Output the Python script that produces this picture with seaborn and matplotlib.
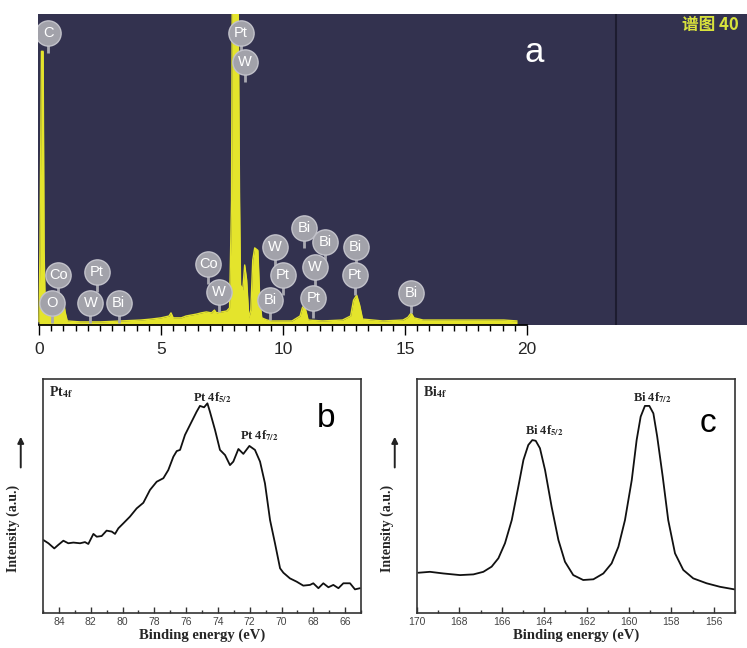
import matplotlib
matplotlib.use("Agg")
import matplotlib.pyplot as plt
from matplotlib.ticker import MultipleLocator, FixedLocator
import seaborn as sns

# --- panel a: EDS spectrum (keV, counts in % of full scale) ---
eds_kev = [0.00, 0.04, 0.10, 0.17, 0.21, 0.25, 0.33, 0.45, 0.66, 0.79, 0.91, 0.99,
           1.07, 1.16, 1.69, 2.52, 3.35, 4.17, 4.59, 5.00, 5.33, 5.41, 5.50, 5.83,
           6.03, 6.24, 6.45, 6.65, 6.86, 7.07, 7.19, 7.27, 7.48, 7.69, 7.81, 7.89,
           7.93, 8.14, 8.22, 8.26, 8.35, 8.43, 8.51, 8.60, 8.68, 8.76, 8.84, 8.97,
           9.05, 9.13, 9.34, 9.55, 9.96, 10.37, 10.70, 10.79, 10.87, 10.95, 11.03,
           11.61, 12.44, 12.77, 12.89, 13.02, 13.14, 13.26, 14.09, 14.92, 15.12,
           15.25, 15.37, 15.74, 17.40, 19.05, 19.59]
eds_counts = [1.0, 24.0, 88.0, 88.0, 24.0, 8.0, 4.8, 4.2, 4.2, 5.5, 8.0, 9.0,
              4.2, 1.3, 1.0, 1.0, 1.3, 1.6, 1.9, 2.3, 2.9, 3.9, 2.3, 2.3,
              2.9, 3.2, 3.5, 3.9, 4.2, 3.9, 4.8, 3.9, 4.2, 4.5, 5.5, 40.0,
              130.0, 130.0, 40.0, 12.9, 11.3, 19.3, 14.5, 2.3, 4.8, 20.9, 24.8, 24.0,
              8.0, 2.3, 1.6, 1.3, 1.3, 1.3, 2.9, 5.5, 6.4, 4.2, 1.6,
              1.3, 1.6, 2.9, 8.0, 9.6, 6.4, 1.9, 1.3, 1.6, 2.5,
              3.9, 2.3, 1.6, 1.6, 1.6, 1.3]

eds_labels = ["C", "Pt", "W", "Co", "O", "Pt", "W", "Bi", "Co", "W", "Bi", "W",
              "Pt", "Bi", "Bi", "W", "Pt", "Bi", "Pt", "Bi"]
label_kev = [0.38, 8.26, 8.43, 0.79, 0.54, 2.36, 2.11, 3.26, 6.94, 7.36, 9.46, 9.67,
             10.00, 10.87, 11.74, 11.32, 11.24, 12.98, 12.93, 15.25]
label_level = [93.9, 93.9, 84.6, 16.1, 7.1, 17.0, 7.1, 7.1, 19.6, 10.6, 8.0, 25.1,
               16.1, 31.2, 26.7, 18.6, 8.7, 25.1, 16.1, 10.3]

eds_major = [0, 5, 10, 15, 20]
eds_minor = [i * 0.5 for i in range(41)]

# --- panel b: Pt 4f XPS ---
pt_be = [84.98, 84.66, 84.29, 84.04, 83.72, 83.41, 83.09, 82.67, 82.36, 82.15,
         81.83, 81.62, 81.31, 81.00, 80.68, 80.47, 80.26, 79.95, 79.53, 79.11,
         78.69, 78.27, 77.85, 77.43, 77.12, 76.80, 76.59, 76.38, 76.07, 75.65,
         75.34, 75.13, 74.87, 74.66, 74.50, 74.18, 73.87, 73.55, 73.24, 73.03,
         72.71, 72.40, 72.02, 71.67, 71.35, 71.04, 70.72, 70.41, 70.09, 69.88,
         69.47, 69.05, 68.63, 68.21, 68.00, 67.68, 67.37, 67.05, 66.74, 66.42,
         66.11, 65.69, 65.38, 65.06]
pt_int = [31.2, 29.8, 27.6, 29.1, 30.9, 29.8, 30.1, 29.8, 30.3, 29.5,
          33.8, 32.6, 32.9, 35.2, 34.8, 33.8, 36.2, 38.3, 41.2, 44.7,
          47.1, 52.6, 56.1, 57.6, 61.1, 66.8, 69.2, 69.7, 76.1, 81.8,
          86.0, 88.5, 87.9, 89.6, 86.0, 78.2, 69.7, 67.5, 63.2, 64.7,
          70.1, 68.0, 71.4, 69.7, 64.7, 55.4, 39.7, 29.8, 19.1, 17.2,
          14.8, 13.4, 11.7, 12.0, 12.7, 10.6, 12.7, 11.0, 12.0, 10.6,
          12.7, 12.7, 10.1, 10.6]

# --- panel c: Bi 4f XPS ---
bi_be = [169.94, 169.39, 168.76, 167.97, 167.34, 166.87, 166.48, 166.16, 165.85,
         165.53, 165.22, 164.98, 164.75, 164.56, 164.40, 164.20, 163.96, 163.65,
         163.33, 163.02, 162.63, 162.16, 161.68, 161.21, 160.82, 160.50, 160.19,
         159.87, 159.64, 159.45, 159.25, 159.04, 158.85, 158.67, 158.41, 158.15,
         157.83, 157.44, 156.97, 156.34, 155.71, 155.03]
bi_int = [17.2, 17.6, 16.9, 16.2, 16.5, 17.6, 19.8, 23.4, 29.8,
          39.7, 54.0, 65.4, 71.8, 73.9, 73.6, 70.4, 61.1, 45.4,
          31.2, 21.9, 16.2, 14.1, 14.4, 16.9, 21.2, 28.3, 39.7,
          56.8, 73.9, 83.9, 88.5, 88.5, 85.3, 75.4, 58.3, 39.7,
          25.5, 18.4, 14.8, 12.7, 11.2, 10.1]

sns.set_theme(style="white")
plt.rcParams["font.family"] = ["Liberation Sans", "DejaVu Sans"]
plt.rcParams["mathtext.fontset"] = "stix"

W, H = 747, 648
fig = plt.figure(figsize=(W / 100, H / 100), dpi=100)
fig.patch.set_facecolor("white")

yellow = "#e4e42c"
navy = "#33324f"

# ---------------- panel a ----------------
ax_a = fig.add_axes([38 / W, 323 / H, 715 / W, 311 / H])
ax_a.set_facecolor(navy)
ax_a.fill_between(eds_kev, eds_counts, color=yellow, lw=0, zorder=2)
sns.lineplot(x=eds_kev, y=eds_counts, ax=ax_a, color=yellow, lw=1, zorder=2)
ax_a.axvline(23.64, color="#1d1c30", lw=1.5, zorder=1)
ax_a.set_xlim(-0.04, 29.26)
ax_a.set_ylim(0, 100)

lv = [v - 6.5 for v in label_level]
ax_a.vlines(label_kev, lv, label_level, color="#a9a9b1", lw=2, zorder=3)
ax_a.scatter(label_kev, label_level, s=330, c="#a2a2aa", edgecolors="#c2c2ca",
             linewidths=1, zorder=4)
for t, x, y in zip(eds_labels, label_kev, label_level):
    ax_a.text(x, y, t, ha="center", va="center", color="white", fontsize=10.5, zorder=5)

for s in ["top", "left", "right"]:
    ax_a.spines[s].set_visible(False)
ax_a.spines["bottom"].set_color("black")
ax_a.spines["bottom"].set_bounds(0, 20)
ax_a.xaxis.set_major_locator(FixedLocator(eds_major))
ax_a.xaxis.set_minor_locator(FixedLocator(eds_minor))
ax_a.set_yticks([])
ax_a.tick_params(axis="x", which="major", direction="out", length=7, width=1,
                 color="black", labelsize=12.5, pad=5, bottom=True)
ax_a.tick_params(axis="x", which="minor", direction="out", length=4, width=1,
                 color="black", bottom=True)
ax_a.set_xlabel("")
ax_a.set_ylabel("")

fig.text(534 / W, 1 - 52 / H, "a", color="white", fontsize=25, ha="center", va="center")
fig.text(682 / W, 1 - 25 / H, "谱图 40", color="#d8e23c", fontsize=12, weight="bold",
         ha="left", va="center", family=["Noto Sans CJK SC", "DejaVu Sans"])

# ---------------- panels b and c ----------------
serif = ["Liberation Serif", "DejaVu Serif"]


def xps_panel(left, be, inten, xlim, title, peaks, letter, letter_xy):
    ax = fig.add_axes([left / W, 35 / H, 318 / W, 234 / H])
    ax.set_facecolor("white")
    sns.lineplot(x=be, y=inten, ax=ax, color="#111111", lw=1.3)
    ax.set_xlim(*xlim)
    ax.set_ylim(0, 100)
    ax.set_yticks([])
    ax.xaxis.set_major_locator(MultipleLocator(2))
    ax.xaxis.set_minor_locator(MultipleLocator(1))
    ax.tick_params(axis="x", which="major", direction="in", length=4, width=1,
                   color="#333333", labelsize=7.5, labelcolor="#444444", pad=3, bottom=True)
    ax.tick_params(axis="x", which="minor", direction="in", length=2.5, width=1,
                   color="#333333", bottom=True)
    for s in ax.spines.values():
        s.set_color("#333333")
        s.set_linewidth(1.2)
    ax.set_xlabel("Binding energy (eV)", family=serif, weight="bold", fontsize=10.5,
                  labelpad=1)
    ax.set_ylabel("Intensity (a.u.)", family=serif, weight="bold", fontsize=10)
    ax.yaxis.set_label_coords(-0.072, 0.36)
    ax.annotate("", xy=(-0.07, 0.765), xytext=(-0.07, 0.61), xycoords="axes fraction",
                arrowprops=dict(arrowstyle="-|>", color="#222222", lw=1.4,
                                mutation_scale=9), annotation_clip=False)
    ax.text(0.018, 0.945, title, transform=ax.transAxes, family=serif, weight="bold",
            fontsize=10, va="center", ha="left")
    for txt, x, y in peaks:
        ax.text(x, y, txt, transform=ax.transAxes, family=serif, weight="bold",
                fontsize=9, va="center", ha="left")
    ax.text(letter_xy[0], letter_xy[1], letter, transform=ax.transAxes, fontsize=24,
            ha="center", va="center", color="black")
    return ax


xps_panel(43, pt_be, pt_int, (85, 65), r"Pt$_{\mathbf{4f}}$",
          [(r"Pt 4f$_{\mathbf{5/2}}$", 0.472, 0.92), (r"Pt 4f$_{\mathbf{7/2}}$", 0.619, 0.76)],
          "b", (0.89, 0.83))
xps_panel(417, bi_be, bi_int, (170, 155), r"Bi$_{\mathbf{4f}}$",
          [(r"Bi 4f$_{\mathbf{5/2}}$", 0.34, 0.78), (r"Bi 4f$_{\mathbf{7/2}}$", 0.679, 0.92)],
          "c", (0.915, 0.81))

fig.savefig("out.png", dpi=100)
